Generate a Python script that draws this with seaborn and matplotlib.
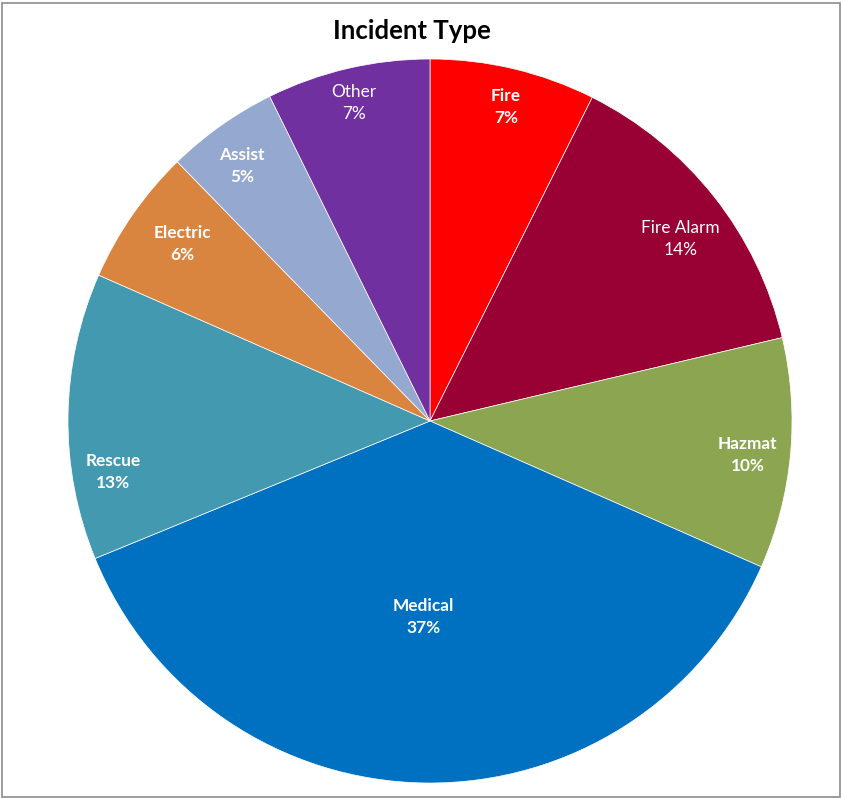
import matplotlib
matplotlib.use("Agg")
import matplotlib.pyplot as plt
import seaborn as sns
import numpy as np
from matplotlib.patches import Rectangle

categories = ["Fire", "Fire Alarm", "Hazmat", "Medical", "Rescue", "Electric", "Assist", "Other"]
shares = [7.4, 13.9, 10.3, 37.2, 12.8, 6.1, 5.0, 7.3]
pct_labels = ["7%", "14%", "10%", "37%", "13%", "6%", "5%", "7%"]
colors = ["#FF0000", "#990033", "#8BA550", "#0070C0", "#4399B0", "#D98540", "#95A8D0", "#7030A0"]
bold = [True, False, True, True, True, True, True, False]
# label anchor positions (pie radius = 1), mimicking Excel "best fit"
label_xy = [(0.210, 0.867), (0.691, 0.503), (0.878, -0.094), (-0.019, -0.541),
            (-0.876, -0.141), (-0.685, 0.489), (-0.519, 0.705), (-0.210, 0.878)]

sns.set_theme(style="white")
plt.rcParams['font.family'] = ['Lato', 'DejaVu Sans']

fig = plt.figure(figsize=(8.42, 7.98), dpi=100)
W, H = 842, 798
cx, cy, R = 430, 421, 362
ax = fig.add_axes([(cx - R) / W, (H - cy - R) / H, 2 * R / W, 2 * R / H])

wedges, _ = ax.pie(shares, colors=colors, startangle=90, counterclock=False,
                   radius=1.0, wedgeprops=dict(edgecolor="white", linewidth=0.5))
ax.set_xlim(-1, 1)
ax.set_ylim(-1, 1)
ax.set_aspect("equal")
ax.axis("off")

for cat, pct, b, (x, y) in zip(categories, pct_labels, bold, label_xy):
    ax.text(x, y, f"{cat}\n{pct}", ha="center", va="center", color="white",
            fontsize=12.4, fontweight="bold" if b else "normal", linespacing=1.5)

fig.text(412 / W, 1 - 31 / H, "Incident Type", ha="center", va="center",
         fontsize=18.5, fontweight="bold", color="black")

fig.patches.append(Rectangle((1.5 / W, 1.5 / H), 1 - 3.5 / W, 1 - 4 / H,
                             transform=fig.transFigure, fill=False,
                             edgecolor="#8C8C8C", linewidth=1.2))

fig.savefig("out.png", dpi=100)
